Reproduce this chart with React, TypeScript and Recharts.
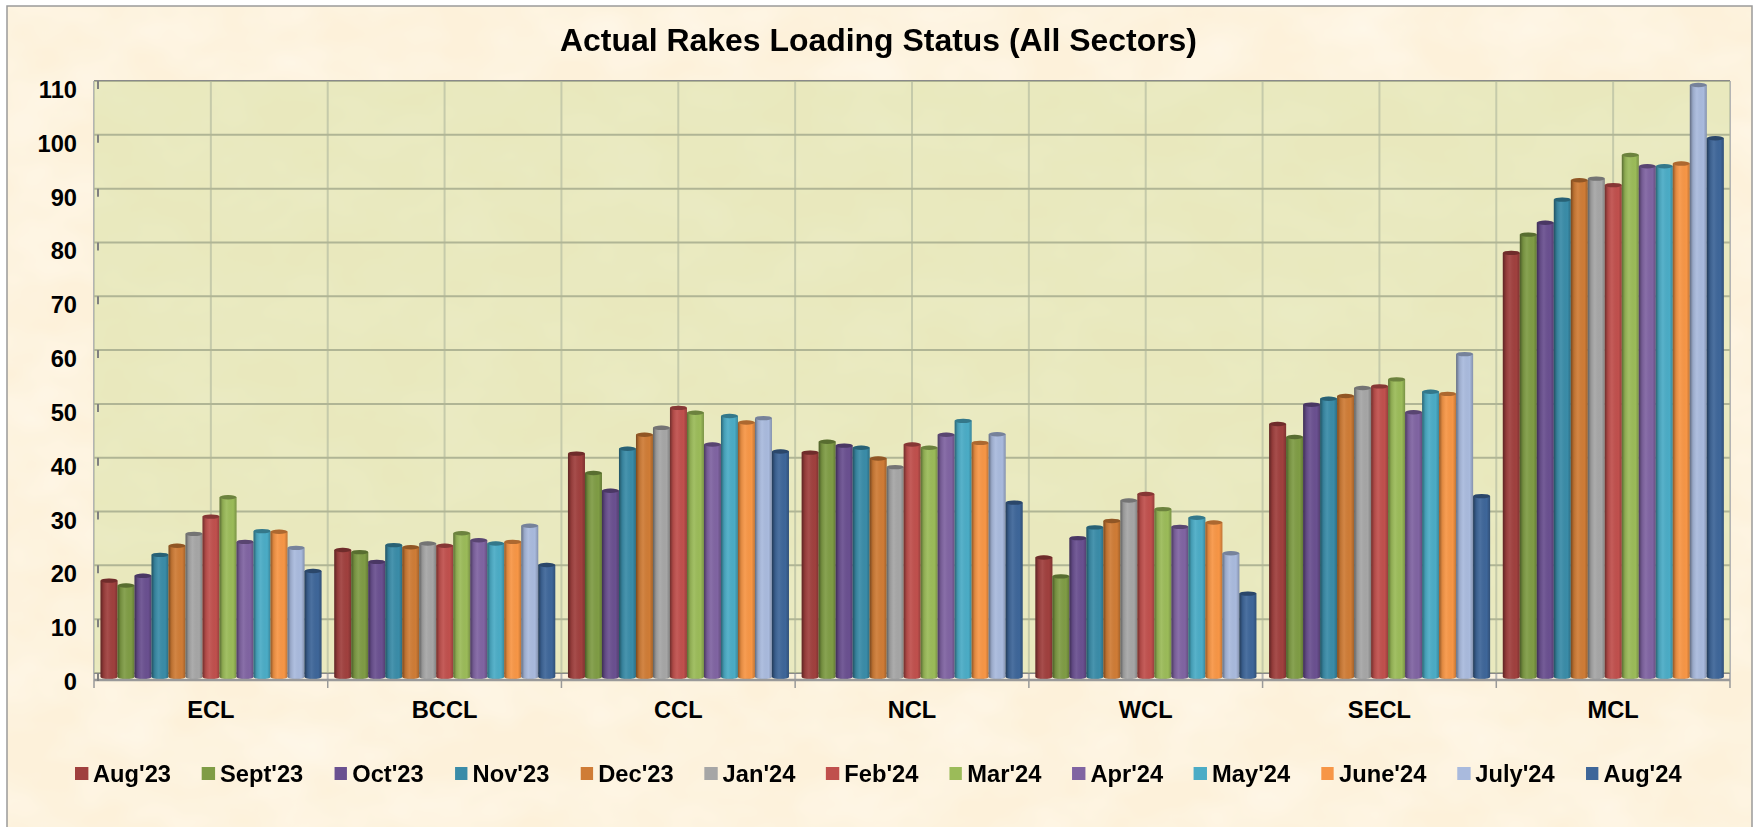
import {
  Bar,
  BarChart,
  CartesianGrid,
  Legend,
  ReferenceArea,
  XAxis,
  YAxis,
} from "recharts";

const sectors = ["ECL", "BCCL", "CCL", "NCL", "WCL", "SECL", "MCL"];
const months = ["Aug'23", "Sept'23", "Oct'23", "Nov'23", "Dec'23", "Jan'24", "Feb'24", "Mar'24", "Apr'24", "May'24", "June'24", "July'24", "Aug'24"];
const colors = ["#A0403E", "#7F9C45", "#6A5090", "#3A8CA8", "#CF7C36", "#A6A6A6", "#C0504D", "#9BBB59", "#8064A2", "#4BACC6", "#F79646", "#A9BADD", "#3E6699"];
const yTicks = [0, 10, 20, 30, 40, 50, 60, 70, 80, 90, 100, 110];

const ecl = [17.9, 17.0, 18.8, 22.7, 24.4, 26.6, 29.8, 33.4, 25.1, 27.1, 27.0, 24.0, 19.7];
const bccl = [23.6, 23.2, 21.4, 24.5, 24.1, 24.8, 24.4, 26.7, 25.4, 24.8, 25.1, 28.1, 20.8];
const ccl = [41.5, 37.9, 34.6, 42.4, 45.0, 46.3, 50.0, 49.1, 43.2, 48.5, 47.3, 48.1, 41.9];
const ncl = [41.7, 43.7, 43.0, 42.6, 40.6, 39.0, 43.2, 42.6, 45.0, 47.6, 43.5, 45.1, 32.4];
const wcl = [22.2, 18.7, 25.8, 27.8, 29.0, 32.8, 34.0, 31.2, 27.9, 29.6, 28.7, 23.0, 15.5];
const secl = [47.0, 44.6, 50.6, 51.7, 52.2, 53.7, 54.0, 55.3, 49.2, 53.0, 52.6, 60.0, 33.6];
const mcl = [78.8, 82.2, 84.4, 88.7, 92.3, 92.6, 91.4, 97.0, 94.9, 94.9, 95.4, 110, 100.1];

const sectorValues = [ecl, bccl, ccl, ncl, wcl, secl, mcl];

const data = sectors.map((sector, i) => {
  const row: Record<string, string | number> = { sector };
  months.forEach((m, j) => {
    row[m] = sectorValues[i][j];
  });
  return row;
});

const FONT = '"Liberation Sans", Arial, sans-serif';
const STRETCH = 1.03;
const CAT_WIDTH = 233.7;

// the original is a 3D column chart, columns stand a bit in front of the back wall
const BAR_DROP = 4;

const CylinderBar = ({ x, y, width, height, fill }: any) => {
  const top = y + BAR_DROP;
  const bottom = y + height + BAR_DROP;
  const rx = width / 2;
  const ry = 2.2;
  const body = `M${x},${top} L${x},${bottom} A${rx},${ry} 0 0 0 ${x + width},${bottom} L${x + width},${top} Z`;
  return (
    <g>
      <path d={body} fill={fill} />
      <path d={body} fill="url(#cyl)" />
      <ellipse cx={x + rx} cy={top} rx={rx} ry={ry} fill={fill} />
      <ellipse cx={x + rx} cy={top} rx={rx} ry={ry} fill="#000" fillOpacity={0.3} />
    </g>
  );
};

const YTick = ({ x, y, payload }: any) => (
  <g>
    <line x1={x + 12} x2={x + 12} y1={y} y2={y + 8} stroke="#808080" strokeWidth={2} />
    <text
      transform={`translate(${x - 9},${y + 17}) scale(${STRETCH},1)`}
      textAnchor="end"
      fontFamily={FONT}
      fontWeight="bold"
      fontSize={23}
      fill="#000"
    >
      {payload.value}
    </text>
  </g>
);

const XTick = ({ x, y, payload, index }: any) => (
  <g>
    <line x1={x - CAT_WIDTH / 2} x2={x - CAT_WIDTH / 2} y1={y - 8} y2={y} stroke="#999" strokeWidth={1.5} />
    {index === sectors.length - 1 && (
      <line x1={x + CAT_WIDTH / 2} x2={x + CAT_WIDTH / 2} y1={y - 8} y2={y} stroke="#999" strokeWidth={1.5} />
    )}
    <text
      transform={`translate(${x},${y + 30}) scale(${STRETCH},1)`}
      textAnchor="middle"
      fontFamily={FONT}
      fontWeight="bold"
      fontSize={23}
      fill="#000"
    >
      {payload.value}
    </text>
  </g>
);

const LegendRow = ({ payload }: any) => (
  <div
    style={{
      display: "flex",
      transform: `scaleX(${STRETCH})`,
      transformOrigin: "0 0",
      fontFamily: FONT,
      fontWeight: "bold",
      fontSize: 23,
      color: "#000",
      whiteSpace: "nowrap",
      lineHeight: "24px",
    }}
  >
    {payload.map((entry: any) => (
      <div key={entry.value} style={{ display: "flex", alignItems: "center", marginRight: 30 }}>
        <span style={{ width: 12.6, height: 13, background: entry.color, marginRight: 4.9 }} />
        {entry.value}
      </div>
    ))}
  </div>
);

const verticalLines = ({ offset }: any) =>
  Array.from({ length: sectors.length * 2 + 1 }, (_, i) => offset.left + (i * offset.width) / (sectors.length * 2));

export default function App() {
  return (
    <div style={{ position: "absolute", left: 0, top: 0, width: 1757, height: 827, overflow: "hidden", background: "#fff" }}>
      <svg width={1757} height={827} style={{ position: "absolute", left: 0, top: 0 }}>
        <defs>
          <linearGradient id="cyl" x1="0" x2="1" y1="0" y2="0">
            <stop offset="0" stopColor="#000" stopOpacity={0.42} />
            <stop offset="0.18" stopColor="#000" stopOpacity={0.1} />
            <stop offset="0.42" stopColor="#fff" stopOpacity={0.07} />
            <stop offset="0.8" stopColor="#000" stopOpacity={0} />
            <stop offset="1" stopColor="#000" stopOpacity={0.22} />
          </linearGradient>
          <filter id="parchment" x="0" y="0" width="100%" height="100%">
            <feTurbulence type="fractalNoise" baseFrequency="0.012 0.018" numOctaves={3} seed={7} />
            <feColorMatrix
              type="matrix"
              values="0 0 0 0 1  0 0 0 0 0.97  0 0 0 0 0.9  0.9 0 0 0 -0.28"
            />
          </filter>
        </defs>
        <rect x={7} y={6} width={1745} height={830} fill="#FDF1DA" stroke="#9a9a9a" strokeWidth={1.5} />
        <rect x={8} y={7} width={1743} height={820} filter="url(#parchment)" />
      </svg>

      <div
        style={{
          position: "absolute",
          left: 0,
          width: 1757,
          top: 22,
          textAlign: "center",
          fontFamily: FONT,
          fontWeight: "bold",
          fontSize: 31,
          lineHeight: "38px",
          color: "#000",
          transform: `scaleX(${STRETCH})`,
          transformOrigin: "878px 0",
        }}
      >
        Actual Rakes Loading Status (All Sectors)
      </div>

      <div style={{ position: "absolute", left: 0, top: 0 }}>
        <BarChart
          width={1757}
          height={827}
          data={data}
          barCategoryGap="2.8%"
          barGap={0}
          margin={{ top: 81, right: 27, left: 0, bottom: 107 }}
          style={{ background: "transparent" }}
        >
          <ReferenceArea y1={0} y2={110} fill="#D6DFA0" fillOpacity={0.5} stroke="none" ifOverflow="visible" />
          <CartesianGrid
            horizontal={false}
            stroke="#b4b4b4"
            strokeWidth={2}
            verticalCoordinatesGenerator={verticalLines}
          />
          <CartesianGrid vertical={false} stroke="#8a8a8a" strokeWidth={2} />
          <XAxis
            dataKey="sector"
            height={40}
            axisLine={{ stroke: "#999", strokeWidth: 2.5 }}
            tickLine={false}
            tick={<XTick />}
            interval={0}
          />
          <YAxis
            width={94}
            domain={[0, 110]}
            ticks={yTicks}
            padding={{ top: 0, bottom: 7 }}
            axisLine={false}
            tickLine={false}
            tick={<YTick />}
            interval={0}
          />
          <Legend
            layout="horizontal"
            verticalAlign="middle"
            align="center"
            itemSorter={null}
            content={<LegendRow />}
            wrapperStyle={{ left: 75, top: 761.5, width: "auto" }}
          />
          {months.map((m, i) => (
            <Bar key={m} dataKey={m} name={m} fill={colors[i]} shape={<CylinderBar />} isAnimationActive={false} />
          ))}
        </BarChart>
      </div>
    </div>
  );
}
